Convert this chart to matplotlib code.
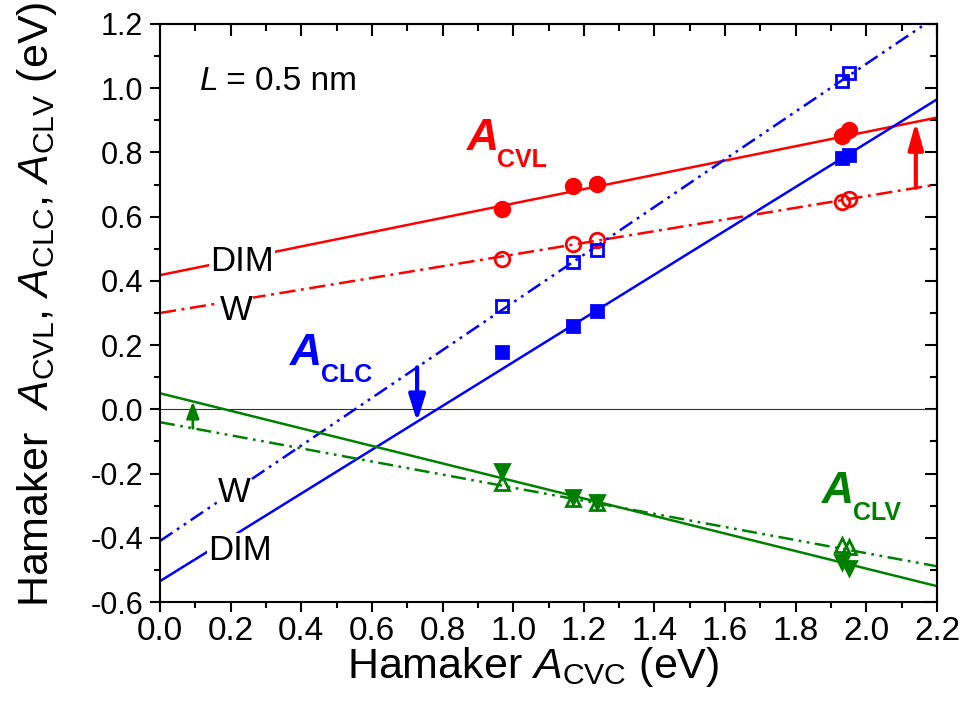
import numpy as np
import matplotlib
matplotlib.use("Agg")
import matplotlib.pyplot as plt
from matplotlib import font_manager
from matplotlib.ticker import MultipleLocator

# condensed face for the axis titles, if it is there
names = {f.name for f in font_manager.fontManager.ttflist}
narrow = "Liberation Sans Narrow" if "Liberation Sans Narrow" in names else "Liberation Sans"

plt.rcParams["font.family"] = ["Liberation Sans", "DejaVu Sans"]
plt.rcParams["mathtext.fontset"] = "custom"
plt.rcParams["mathtext.rm"] = narrow
plt.rcParams["mathtext.it"] = narrow + ":italic"

# Hamaker constants (eV) at L = 0.5 nm
a_cvc = [0.968, 1.169, 1.237, 1.931, 1.951]

cvl_dim = [0.624, 0.695, 0.702, 0.851, 0.870]
cvl_w = [0.468, 0.515, 0.527, 0.646, 0.655]
clc_dim = [0.178, 0.260, 0.306, 0.783, 0.792]
clc_w = [0.322, 0.459, 0.496, 1.022, 1.047]
clv_dim = [-0.192, -0.274, -0.289, -0.475, -0.494]
clv_w = [-0.229, -0.279, -0.292, -0.423, -0.429]

# linear fits: (intercept, slope)
fit_cvl_dim = (0.418, 0.223)
fit_cvl_w = (0.300, 0.182)
fit_clc_dim = (-0.535, 0.682)
fit_clc_w = (-0.410, 0.743)
fit_clv_dim = (0.050, -0.273)
fit_clv_w = (-0.040, -0.204)

# arrows W -> DIM
arrow_cvl_x = 2.14
arrow_clc_x = 0.728
arrow_clv_x = 0.093

xfit = np.array([0.0, 2.2])


def fit(p, x):
    return p[0] + p[1] * np.asarray(x)


RED, BLUE, GREEN = "#ff0000", "#0000ff", "#008000"
LW = 1.8
dashdot = (0, (6.5, 2.2, 1.2, 2.2))
dashdotdot = (0, (6, 2.2, 1.1, 2.2, 1.1, 2.2))

fig = plt.figure(figsize=(9.65, 7.16), dpi=100)
ax = fig.add_axes([0.1658, 0.1592, 0.8052, 0.8073])

ax.axhline(0, color="#333333", lw=0.8, zorder=1)

ax.plot(xfit, fit(fit_cvl_dim, xfit), color=RED, lw=LW)
ax.plot(xfit, fit(fit_cvl_w, xfit), color=RED, lw=LW, ls=dashdot)
ax.plot(xfit, fit(fit_clc_dim, xfit), color=BLUE, lw=LW)
ax.plot(xfit, fit(fit_clc_w, xfit), color=BLUE, lw=LW, ls=dashdotdot)
ax.plot(xfit, fit(fit_clv_dim, xfit), color=GREEN, lw=LW)
ax.plot(xfit, fit(fit_clv_w, xfit), color=GREEN, lw=LW, ls=dashdotdot)

mk = dict(ls="none", mew=2, zorder=4)
ax.plot(a_cvc, cvl_dim, "o", color=RED, ms=10.5, **mk)
ax.plot(a_cvc, cvl_w, "o", color=RED, mfc="none", ms=10.5, **mk)
ax.plot(a_cvc, clc_dim, "s", color=BLUE, ms=8, **mk)
ax.plot(a_cvc, clc_w, "s", color=BLUE, mfc="none", ms=8, **mk)
ax.plot(a_cvc, clv_dim, "v", color=GREEN, ms=9.5, **mk)
ax.plot(a_cvc, clv_w, "^", color=GREEN, mfc="none", ms=9.5, **mk)


def arrow(x, p_from, p_to, color, lw, hl, hw):
    ax.annotate("", xy=(x, fit(p_to, x)), xytext=(x, fit(p_from, x)),
                arrowprops=dict(arrowstyle=f"-|>,head_length={hl},head_width={hw}",
                                color=color, lw=lw, shrinkA=0, shrinkB=0,
                                mutation_scale=10),
                zorder=5)


arrow(arrow_cvl_x, fit_cvl_w, fit_cvl_dim, RED, 3, 1.6, 0.45)
arrow(arrow_clc_x, fit_clc_w, fit_clc_dim, BLUE, 3, 1.6, 0.5)
arrow(arrow_clv_x, fit_clv_w, fit_clv_dim, GREEN, 2, 1.0, 0.38)


def hamaker_label(x, y, sub, color):
    ax.text(x, y, "A", color=color, fontsize=32, fontweight="bold",
            fontstyle="italic", va="baseline", zorder=6)
    ax.annotate(sub, xy=(x, y), xytext=(22, -12), textcoords="offset points",
                color=color, fontsize=18, fontweight="bold", va="baseline",
                zorder=6)


hamaker_label(0.869, 0.808, "CVL", RED)
hamaker_label(0.368, 0.138, "CLC", BLUE)
hamaker_label(1.875, -0.293, "CLV", GREEN)

box = dict(facecolor="white", edgecolor="none", pad=0.5)
ax.text(0.142, 0.431, "DIM", fontsize=25, va="baseline", bbox=box, zorder=3)
ax.text(0.170, 0.278, "W", fontsize=25, va="baseline", bbox=box, zorder=3)
ax.text(0.164, -0.289, "W", fontsize=25, va="baseline", bbox=box, zorder=3)
ax.text(0.136, -0.469, "DIM", fontsize=25, va="baseline", bbox=box, zorder=3)

ax.text(0.113, 0.994, "L", fontsize=24, fontstyle="italic", va="baseline")
ax.annotate(" = 0.5 nm", xy=(0.113, 0.994), xytext=(12, 0),
            textcoords="offset points", fontsize=24, va="baseline")

ax.set_xlim(0, 2.2)
ax.set_ylim(-0.6, 1.2)
ax.xaxis.set_major_locator(MultipleLocator(0.2))
ax.xaxis.set_minor_locator(MultipleLocator(0.1))
ax.yaxis.set_major_locator(MultipleLocator(0.2))
ax.yaxis.set_minor_locator(MultipleLocator(0.1))
ax.xaxis.set_major_formatter(lambda v, pos: f"{v:.1f}")
ax.yaxis.set_major_formatter(lambda v, pos: f"{v:.1f}")

for s in ax.spines.values():
    s.set_linewidth(1.5)

ax.tick_params(which="both", direction="out", width=1.5, top=False, right=False)
ax.tick_params(which="major", length=7)
ax.tick_params(which="minor", length=4.5)
ax.tick_params(axis="x", labelsize=24, pad=3)
ax.tick_params(axis="y", labelsize=22, pad=5)

# inward ticks on the top and right edges
top = ax.secondary_xaxis("top")
right = ax.secondary_yaxis("right")
for sec, axis in ((top, top.xaxis), (right, right.yaxis)):
    axis.set_major_locator(MultipleLocator(0.2))
    axis.set_minor_locator(MultipleLocator(0.1))
    sec.tick_params(which="both", direction="in", width=1.5, labelsize=0)
    sec.tick_params(which="major", length=8.5)
    sec.tick_params(which="minor", length=5)
    axis.set_major_formatter(lambda v, pos: "")
    for s in sec.spines.values():
        s.set_linewidth(1.5)

ax.set_xlabel(r"Hamaker $A_{\mathrm{CVC}}$ (eV)", fontsize=31, family=narrow)
ax.xaxis.set_label_coords(0.48, -0.075)
ax.set_ylabel(r"Hamaker  $A_{\mathrm{CVL}}$, $A_{\mathrm{CLC}}$, $A_{\mathrm{CLV}}$ (eV)",
              fontsize=31, family=narrow)
ax.yaxis.set_label_coords(-0.13, 0.515)

fig.savefig("out.png", dpi=100)
